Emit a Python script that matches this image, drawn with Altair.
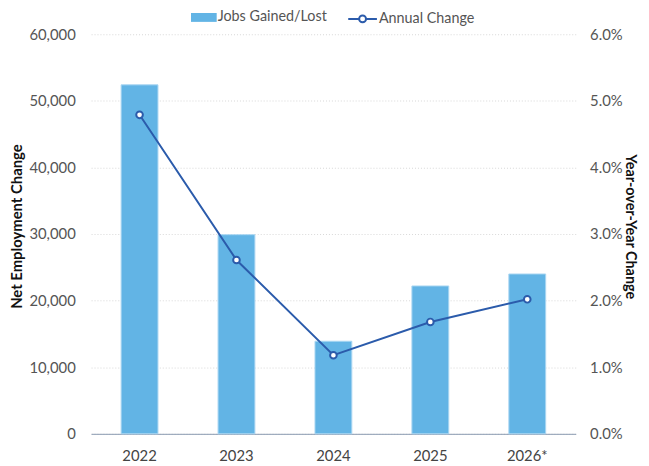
import altair as alt
import pandas as pd

years = ["2022", "2023", "2024", "2025", "2026*"]
jobs = [52400, 29900, 13900, 22200, 24000]
annual = [0.0479, 0.0261, 0.0118, 0.0168, 0.0202]

df = pd.DataFrame({"year": years, "jobs": jobs, "annual": annual,
                   "s1": "Jobs Gained/Lost", "s2": "Annual Change"})

BAR = "#62B4E5"
LINE = "#2B5BAB"
FONT = "Lato"

x = alt.X("year:N", sort=years, title=None,
          scale=alt.Scale(paddingInner=0.62, paddingOuter=0.31),
          axis=alt.Axis(labelAngle=0, ticks=False, domainColor="#8A9BB0",
                        labelFontSize=15, labelColor="#444", labelPadding=15))

bars = alt.Chart(df).mark_bar(color=BAR, stroke="#A9D6F2", strokeWidth=1).encode(
    x=x,
    y=alt.Y("jobs:Q", title="Net Employment Change", stack=None,
            scale=alt.Scale(domain=[0, 60000], nice=False),
            axis=alt.Axis(orient="left", format=",.0f", tickCount=6,
                          ticks=False, domain=False, grid=True, gridDash=[1, 2], gridColor="#D8D8D8",
                          labelFontSize=15, labelColor="#555", labelPadding=16,
                          titleFontSize=15, titleFontWeight="bold", titleColor="#111", titlePadding=4,
                          titleY=194)),
    fill=alt.Fill("s1:N", scale=alt.Scale(domain=["Jobs Gained/Lost"], range=[BAR]),
                  legend=alt.Legend(title=None, orient="none", legendX=104, legendY=-27, padding=0,
                                    symbolType="M-1.3,-0.45H1.3V0.45H-1.3Z", symbolSize=400,
                                    symbolStrokeWidth=0, labelOffset=4,
                                    labelFontSize=14.5, labelColor="#555")),
)

line = alt.Chart(df).mark_line(color=LINE, strokeWidth=2,
                               point=alt.OverlayMarkDef(filled=True, fill="white", stroke=LINE,
                                                        strokeWidth=2, size=45)).encode(
    x=x,
    y=alt.Y("annual:Q", title="Year-over-Year Change",
            scale=alt.Scale(domain=[0, 0.06], nice=False),
            axis=alt.Axis(orient="right", format=".1%", tickCount=6,
                          ticks=False, domain=False, grid=False,
                          labelFontSize=15, labelColor="#555", labelPadding=14,
                          titleFontSize=14.5, titleFontWeight="bold", titleColor="#111", titlePadding=0,
                          titleY=194)),
    stroke=alt.Stroke("s2:N", scale=alt.Scale(domain=["Annual Change"], range=[LINE]),
                      legend=alt.Legend(title=None, orient="none", legendX=259, legendY=-31, padding=0,
                                        symbolType="M-1,0H-0.24M0.24,0H1M-0.24,0A0.24,0.24,0,1,1,0.24,0A0.24,0.24,0,1,1,-0.24,0",
                                        symbolSize=841, symbolStrokeWidth=2, symbolFillColor="white",
                                        labelOffset=1, labelFontSize=14.5, labelColor="#555")),
)

chart = alt.layer(bars, line).resolve_scale(y="independent", fill="independent", stroke="independent").properties(
    width=490, height=404,
    autosize=alt.AutoSizeParams(type="none"),
    padding={"left": 84, "top": 24, "right": 66, "bottom": 30},
).configure(font=FONT).configure_view(stroke=None)

chart.save("out.html", embed_options={"renderer": "svg", "actions": False})
